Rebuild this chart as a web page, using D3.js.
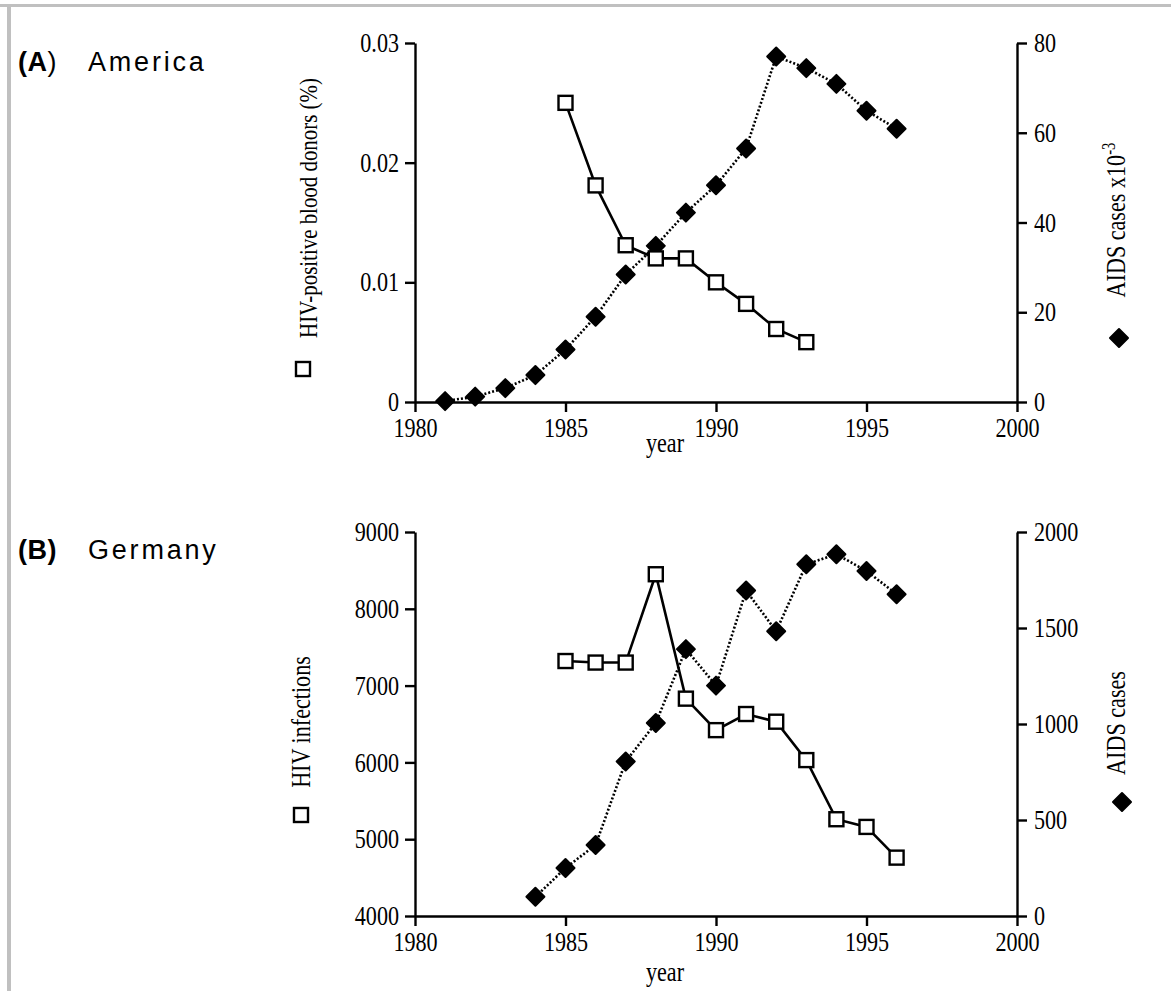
<!DOCTYPE html>
<html>
<head>
<meta charset="utf-8">
<script src="https://cdn.jsdelivr.net/npm/d3@7/dist/d3.min.js"></script>
<style>
  body { margin: 0; background: #fff; }
  svg text { fill: #000; }
</style>
</head>
<body>
<svg id="chart" width="1171" height="991"></svg>
<script>
// ---- data ----
var yearTicks = [1980, 1985, 1990, 1995, 2000];

var hivYearsA = [1985, 1986, 1987, 1988, 1989, 1990, 1991, 1992, 1993];
var hivDonorsA = [0.025, 0.0181, 0.0131, 0.012, 0.012, 0.0100, 0.0082, 0.0061, 0.0050];
var aidsYearsA = [1981, 1982, 1983, 1984, 1985, 1986, 1987, 1988, 1989, 1990, 1991, 1992, 1993, 1994, 1995, 1996];
var aidsCasesA = [0.2, 1.2, 3.1, 6.0, 11.7, 19.0, 28.4, 34.8, 42.2, 48.3, 56.5, 77.0, 74.4, 70.9, 64.9, 60.9];
var leftTicksA = [0, 0.01, 0.02, 0.03];
var rightTicksA = [0, 20, 40, 60, 80];

var hivYearsB = [1985, 1986, 1987, 1988, 1989, 1990, 1991, 1992, 1993, 1994, 1995, 1996];
var hivInfB = [7320, 7300, 7300, 8450, 6830, 6420, 6630, 6530, 6030, 5260, 5160, 4760];
var aidsYearsB = [1984, 1985, 1986, 1987, 1988, 1989, 1990, 1991, 1992, 1993, 1994, 1995, 1996];
var aidsCasesB = [100, 250, 370, 805, 1005, 1390, 1200, 1695, 1483, 1832, 1884, 1797, 1676];
var leftTicksB = [4000, 5000, 6000, 7000, 8000, 9000];
var rightTicksB = [0, 500, 1000, 1500, 2000];

var svg = d3.select('#chart');
var SX = 0.82;           // condense serif glyphs horizontally
var TICK = 10, PAD = 6;
var serif = '"Liberation Serif", "Times New Roman", serif';
var sans = '"Liberation Sans", Arial, sans-serif';

//frame
svg.append('rect').attr('x', 0).attr('y', 4).attr('width', 1171).attr('height', 3).attr('fill', '#c0c0c0');
svg.append('rect').attr('x', 7).attr('y', 4).attr('width', 4).attr('height', 987).attr('fill', '#c0c0c0');

function diamond(g, x, y) {
  var r = 9;
  g.append('path')
    .attr('d', 'M' + x + ',' + (y - r) + 'L' + (x + r) + ',' + y + 'L' + x + ',' + (y + r) + 'L' + (x - r) + ',' + y + 'Z')
    .attr('fill', '#000').attr('stroke', '#000').attr('stroke-width', 2).attr('stroke-linejoin', 'round');
}
function square(g, x, y) {
  g.append('rect').attr('x', x - 7).attr('y', y - 7).attr('width', 14).attr('height', 14)
    .attr('fill', '#fff').attr('stroke', '#000').attr('stroke-width', 2.4);
}

function styleAxis(g, side) {
  g.select('.domain').attr('stroke', '#000').attr('stroke-width', 2.4);
  g.selectAll('.tick line').attr('stroke', '#000').attr('stroke-width', 2.4);
  var t = g.selectAll('.tick text')
    .attr('font-family', serif).attr('font-size', 27).attr('fill', '#000')
    .attr('transform', 'scale(' + SX + ',1)');
  if (side === 'left') t.attr('x', -(TICK + PAD) / SX);
  if (side === 'right') t.attr('x', (TICK + 7) / SX);
}

function rotLabel(x, y, size, fn) {
  var t = svg.append('text')
    .attr('transform', 'translate(' + x + ',' + y + ') rotate(-90) scale(' + SX + ',1)')
    .attr('text-anchor', 'middle')
    .attr('font-family', serif).attr('font-size', size);
  fn(t);
  return t;
}

function panel(c) {
  var x = d3.scaleLinear().domain([1980, 2000]).range([415, 1017]);
  var yL = d3.scaleLinear().domain(c.leftDomain).range([c.bot, c.top]);
  var yR = d3.scaleLinear().domain(c.rightDomain).range([c.bot, c.top]);

  var gx = svg.append('g').attr('transform', 'translate(0,' + c.bot + ')')
    .call(d3.axisBottom(x).tickValues(yearTicks).tickFormat(d3.format('d')).tickSize(TICK).tickSizeOuter(0).tickPadding(6));
  styleAxis(gx, 'bottom');
  var gl = svg.append('g').attr('transform', 'translate(415,0)')
    .call(d3.axisLeft(yL).tickValues(c.leftTicks).tickFormat(c.leftFmt).tickSize(TICK).tickSizeOuter(0).tickPadding(PAD));
  styleAxis(gl, 'left');
  var gr = svg.append('g').attr('transform', 'translate(1017,0)')
    .call(d3.axisRight(yR).tickValues(c.rightTicks).tickFormat(d3.format('d')).tickSize(TICK).tickSizeOuter(0).tickPadding(7));
  styleAxis(gr, 'right');

  //AIDS series (dotted, diamonds)
  var aids = c.aidsYears.map(function (d, i) { return [x(d), yR(c.aidsVals[i])]; });
  svg.append('path').attr('d', d3.line()(aids))
    .attr('fill', 'none').attr('stroke', '#000').attr('stroke-width', 2.6).attr('stroke-dasharray', '2,2');
  var gd = svg.append('g');
  aids.forEach(function (p) { diamond(gd, p[0], p[1]); });

  //HIV series (solid, squares)
  var hiv = c.hivYears.map(function (d, i) { return [x(d), yL(c.hivVals[i])]; });
  svg.append('path').attr('d', d3.line()(hiv))
    .attr('fill', 'none').attr('stroke', '#000').attr('stroke-width', 2.6);
  var gs = svg.append('g');
  hiv.forEach(function (p) { square(gs, p[0], p[1]); });

  //year label
  svg.append('text').attr('x', 665).attr('y', c.yearY).attr('text-anchor', 'middle')
    .attr('font-family', serif).attr('font-size', 27)
    .attr('transform', 'translate(665,0) scale(' + SX + ',1) translate(-665,0)')
    .text('year');
}

// (A) America
panel({
  top: 43, bot: 402, leftDomain: [0, 0.03], rightDomain: [0, 80],
  leftTicks: leftTicksA, rightTicks: rightTicksA,
  leftFmt: function (d) { return d === 0 ? '0' : d.toFixed(2); },
  hivYears: hivYearsA, hivVals: hivDonorsA, aidsYears: aidsYearsA, aidsVals: aidsCasesA,
  yearY: 452
});
// (B) Germany
panel({
  top: 532, bot: 916, leftDomain: [4000, 9000], rightDomain: [0, 2000],
  leftTicks: leftTicksB, rightTicks: rightTicksB,
  leftFmt: d3.format('d'),
  hivYears: hivYearsB, hivVals: hivInfB, aidsYears: aidsYearsB, aidsVals: aidsCasesB,
  yearY: 981
});

//axis titles
rotLabel(317, 208, 25.5, function (t) { t.text('HIV-positive blood donors (%)'); });
square(svg, 303, 369);
rotLabel(1125, 220, 27, function (t) {
  t.append('tspan').text('AIDS cases x10');
  t.append('tspan').attr('font-size', 18).attr('dy', -10).text('-3');
});
diamond(svg, 1119, 338);

rotLabel(310, 722, 27, function (t) { t.text('HIV infections'); });
square(svg, 301, 815);
rotLabel(1125, 723, 27, function (t) { t.text('AIDS cases'); });
diamond(svg, 1122, 802);

//panel titles
function title(y, bold, normal, rest) {
  var t = svg.append('text').attr('x', 18).attr('y', y)
    .attr('font-family', sans).attr('font-size', 27).attr('letter-spacing', 0.5);
  t.append('tspan').attr('font-weight', 'bold').text(bold);
  t.append('tspan').text(normal);
  t.append('tspan').attr('x', 88).attr('letter-spacing', 2.8).text(rest);
}
title(71, '(A', ')', 'America');
title(559, '(B)', '', 'Germany');
</script>
</body>
</html>
